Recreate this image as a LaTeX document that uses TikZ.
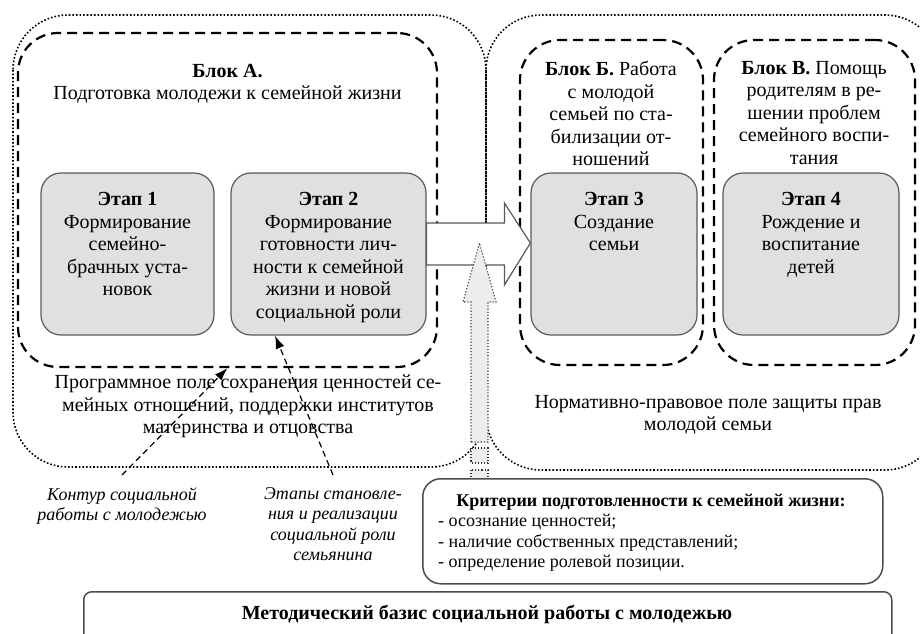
\documentclass[tikz,border=0pt]{standalone}
\usepackage{fontspec}
\setmainfont{Liberation Serif}
\usetikzlibrary{arrows.meta,positioning}
\begin{document}
\begin{tikzpicture}[x=1pt,y=-1pt,font=\fontsize{20}{22.5}\selectfont,
  pole/.style={dotted,line width=1.6pt,rounded corners=55pt},
  blok/.style={draw,dash pattern=on 10pt off 6pt,line width=2.2pt,rounded corners=40pt,inner sep=0pt},
  etap/.style={draw=black!65,fill=black!12,line width=1.2pt,rounded corners=20pt,inner sep=0pt},
  tekst/.style={align=center,inner sep=0pt,anchor=north},
  ramka/.style={draw=black!70,line width=1.5pt,fill=white,inner sep=0pt},
  melk/.style={font=\fontsize{18}{20.6}\selectfont},
  kursiv/.style={font=\fontsize{18}{20.6}\selectfont\itshape},
  ukaz/.style={dash pattern=on 6pt off 4pt,line width=1.2pt,-{Latex[length=13pt,width=9pt]}},
  strelka/.style={draw=black!65,fill=white,line width=1.2pt},
  vverh/.style={dotted,draw=black!80,fill=black!7,line width=1.1pt}]
\useasboundingbox (0,0) rectangle (920,633);
\draw[pole] (13,15) rectangle (486,467);
\draw[pole] (486,15) rectangle (940,470);
\node[blok,minimum width=419pt,minimum height=334pt] (bA) at (227.5,200) {};
\node[blok,minimum width=183pt,minimum height=325pt] (bB) at (611.5,202.5) {};
\node[blok,minimum width=201pt,minimum height=325pt] (bV) at (814.5,202.5) {};
\foreach \n/\x/\w in {e1/127.5/173,e2/328.5/195,e3/614/166,e4/811/176}
  \node[etap,minimum width=\w pt,minimum height=162pt] (\n) at (\x,254) {};
\node[tekst,below=20pt of e1.north] (t1) {\textbf{Этап 1}\\Формирование\\семейно-\\брачных уста-\\новок};
\node[tekst,below=20pt of e2.north] (t2) {\textbf{Этап 2}\\Формирование\\готовности лич-\\ности к семейной\\жизни и новой\\социальной роли};
\node[tekst,below=20pt of e3.north] (t3) {\textbf{Этап 3}\\Создание\\семьи};
\node[tekst,below=20pt of e4.north] (t4) {\textbf{Этап 4}\\Рождение и\\воспитание\\детей};
\draw[strelka] ([yshift=31pt]e2.east) -| ([xshift=-26pt,yshift=51pt]e3.west) -- ([yshift=11pt]e3.west)
  -- ([xshift=-26pt,yshift=-31pt]e3.west) |- ([yshift=-11pt]e2.east) -- cycle;
\draw[vverh] (471,442) -- (471,302) -- (463,302) -- (479.5,243) -- (496,302) -- (488,302) -- (488,442) -- cycle;
\draw[vverh] (471,448) rectangle (488,463);
\draw[vverh] (471,470) rectangle (488,482);
\node[ramka,rounded corners=18pt,minimum width=460pt,minimum height=105pt,anchor=north west] (kr) at (422,478) {};
\node[ramka,rounded corners=8pt,minimum width=808pt,minimum height=80pt,anchor=north west] (mb) at (83,591) {};
\node[tekst] (tA) at (227.5,64) {\textbf{Блок А.}\\Подготовка молодежи к семейной жизни};
\node[tekst] (tB) at (611,61) {\textbf{Блок Б.} Работа\\с молодой\\семьей по ста-\\билизации от-\\ношений};
\node[tekst] (tV) at (814,61) {\textbf{Блок В.} Помощь\\родителям в ре-\\шении проблем\\семейного воспи-\\тания};
\node[tekst] (pp) at (248,375) {Программное поле сохранения ценностей се-\\мейных отношений, поддержки институтов\\материнства и отцовства};
\node[tekst] (np) at (708,395) {Нормативно-правовое поле защиты прав\\молодой семьи};
\node[tekst,melk] (krt) at (651,494) {\textbf{Критерии подготовленности к семейной жизни:}};
\node[melk,align=left,anchor=north west,inner sep=0pt] (kri) at (438,514) {- осознание ценностей;\\- наличие собственных представлений;\\- определение ролевой позиции.};
\node[tekst] (mt) at (487,605) {\textbf{Методический базис социальной работы с молодежью}};
\node[tekst,kursiv] (kon) at (122,487) {Контур социальной\\работы с молодежью};
\node[tekst,kursiv] (eta) at (333,487) {Этапы становле-\\ния и реализации\\социальной роли\\семьянина};
\draw[ukaz] ([yshift=12pt]kon.north) -- (bA.south);
\draw[ukaz] ([yshift=12pt]eta.north) -- ([xshift=-53.5pt]e2.south);
\end{tikzpicture}
\end{document}
